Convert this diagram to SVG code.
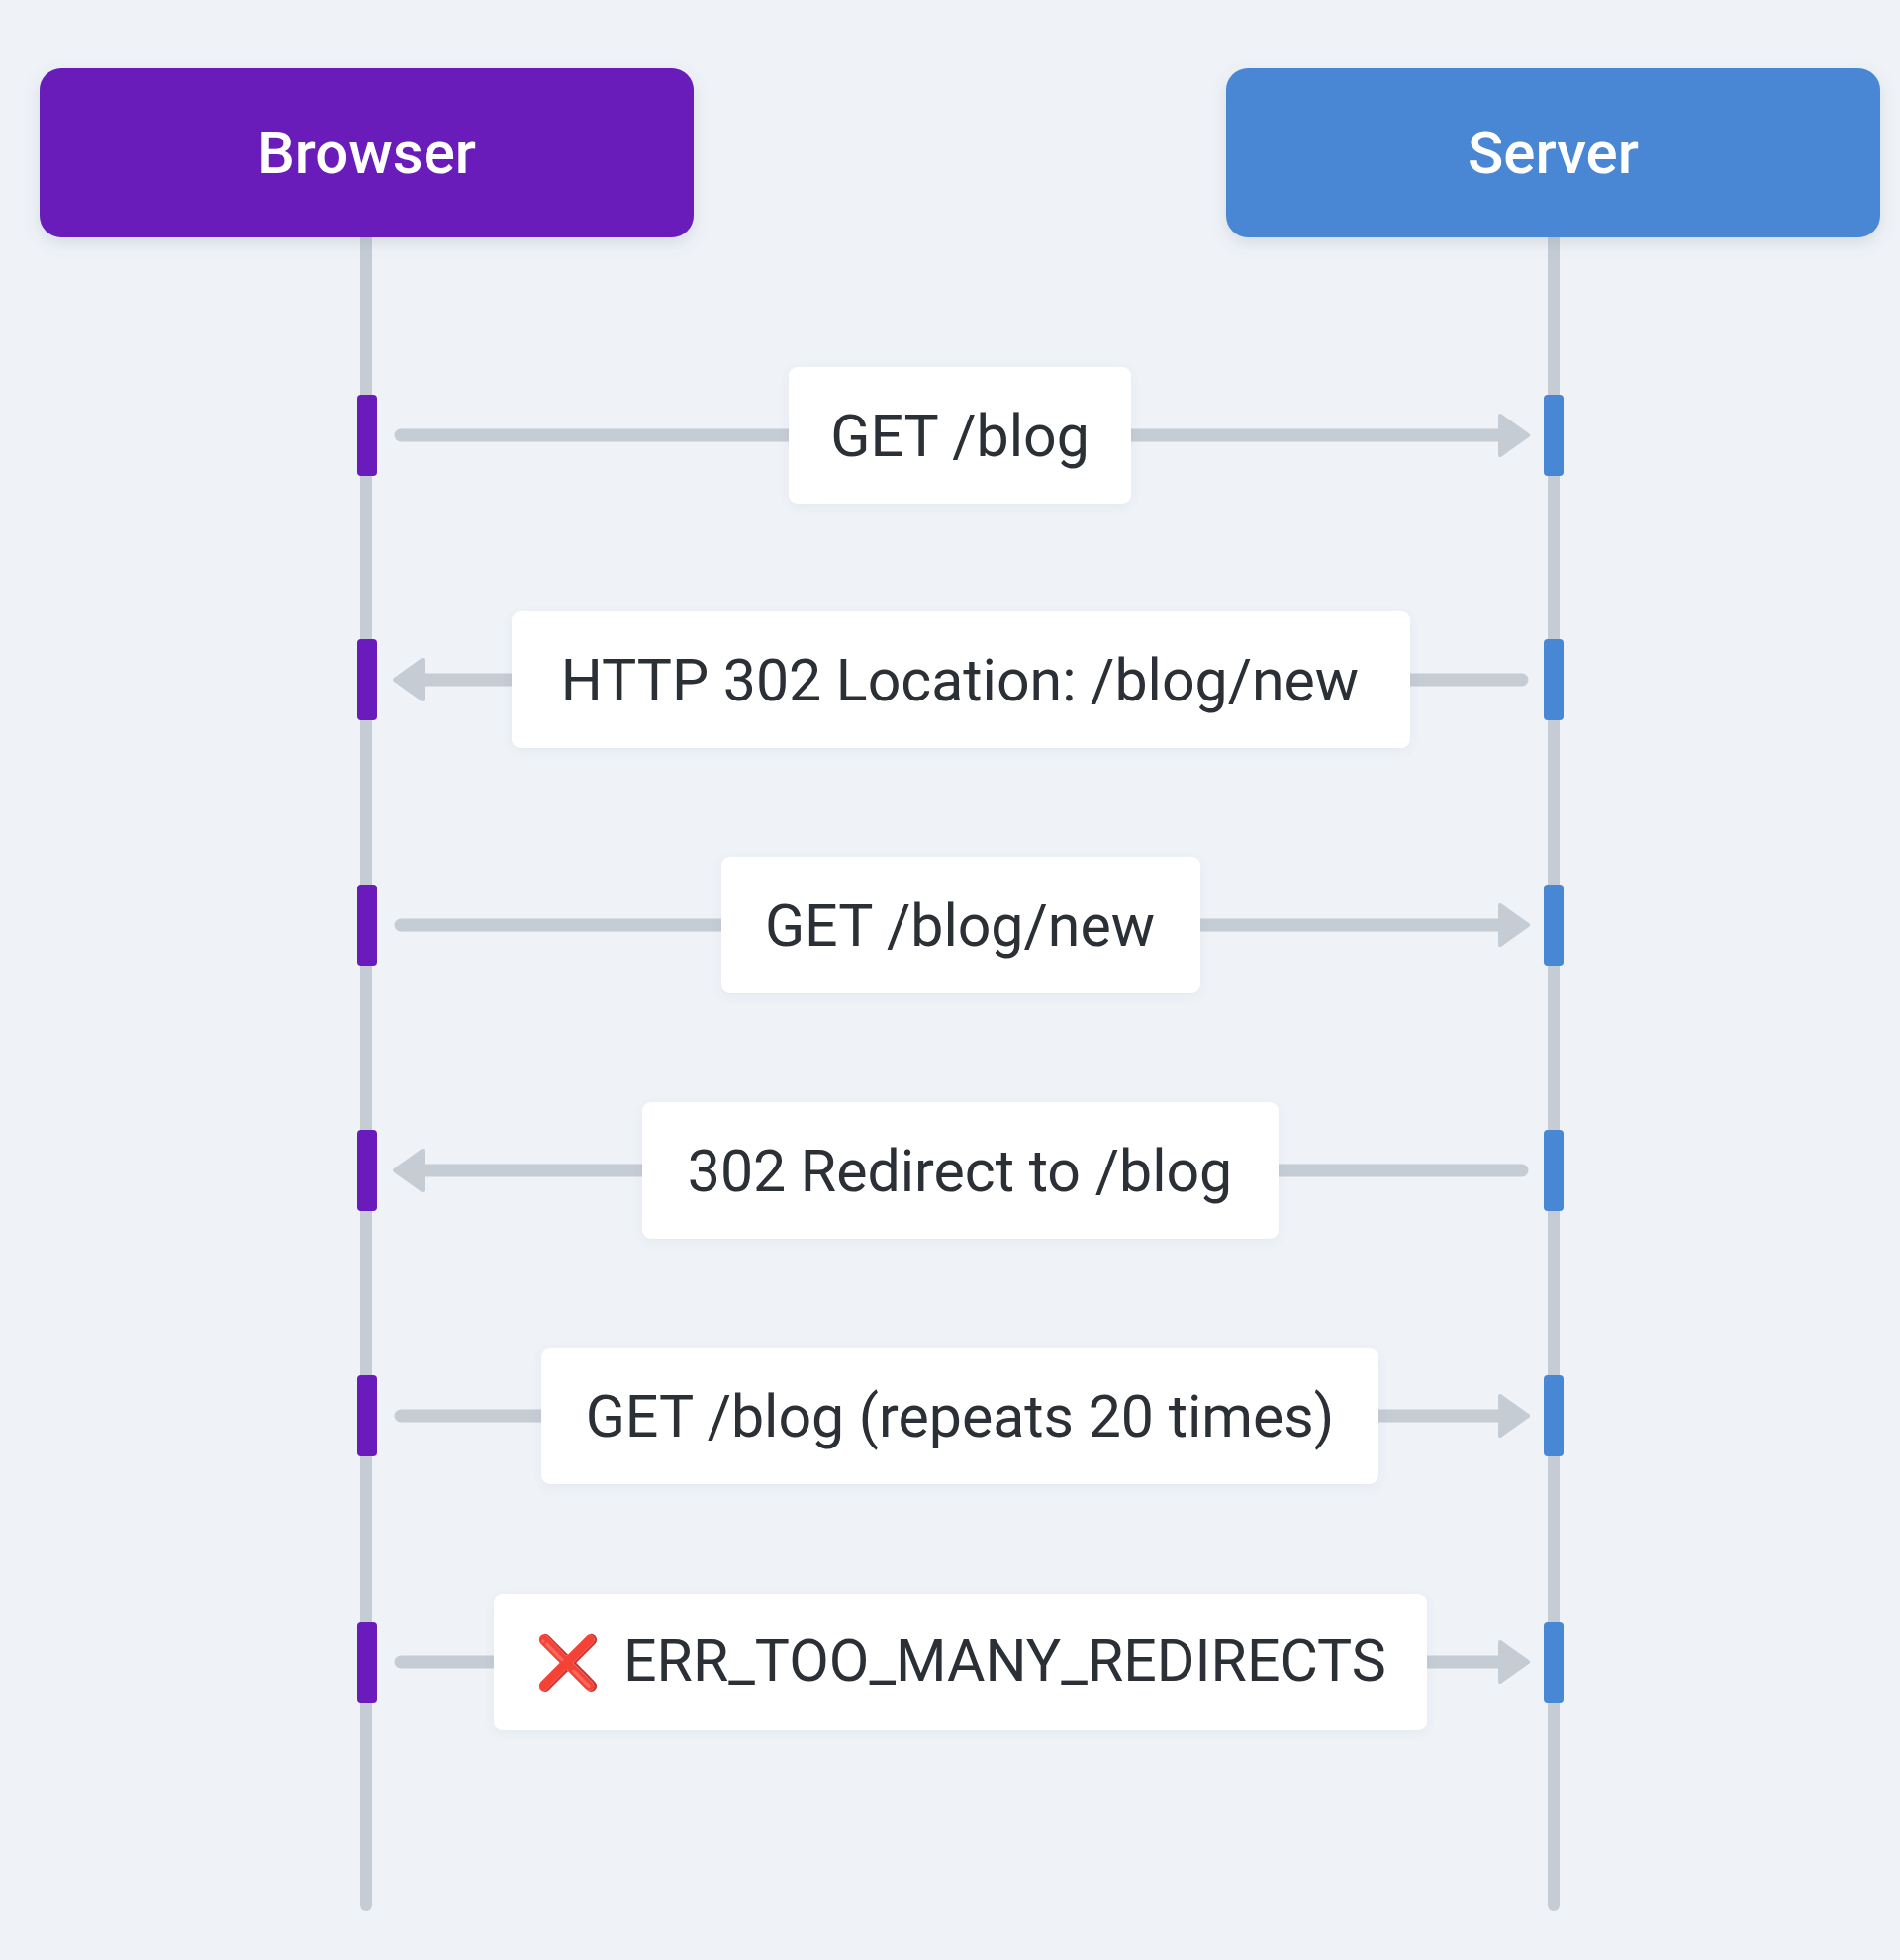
<svg xmlns="http://www.w3.org/2000/svg" width="1920" height="1981" viewBox="0 0 1920 1981">
<style>
.bg{fill:#eff3f7}
.life{stroke:#c5ccd4;stroke-width:12;stroke-linecap:round;fill:none}
.msg{stroke:#c5ccd4;stroke-width:13;stroke-linecap:round;fill:none}
.lbl{fill:#ffffff}
.txt{font-family:Roboto,"Noto Sans","Liberation Sans",sans-serif;font-size:59px;fill:#2b2f36}
.head{font-family:Roboto,"Noto Sans","Liberation Sans",sans-serif;font-size:60px;font-weight:500;fill:#ffffff}
.actB{fill:#6a1bbb}
.actS{fill:#4887d4}
</style>
<defs>
<filter id="sh" x="-10%" y="-20%" width="120%" height="150%">
<feDropShadow dx="0" dy="6" stdDeviation="8" flood-color="#5a6a80" flood-opacity="0.18"/>
</filter>
<filter id="sh2" x="-10%" y="-20%" width="120%" height="150%">
<feDropShadow dx="0" dy="3" stdDeviation="5" flood-color="#5a6a80" flood-opacity="0.08"/>
</filter>
<marker id="ah" markerUnits="userSpaceOnUse" markerWidth="36" markerHeight="50" refX="2" refY="25" orient="auto">
<path d="M3,5 L31,25 L3,45 Z" fill="#c5ccd4" stroke="#c5ccd4" stroke-width="4" stroke-linejoin="round"/>
</marker>
</defs>
<rect class="bg" x="0" y="0" width="1920" height="1981"/>

<g id="browser">
<line class="life" x1="370" y1="240" x2="370" y2="1925"/>
<rect x="40" y="69" width="661" height="171" rx="22" fill="#6a1bbb" filter="url(#sh)"/>
<text class="head" x="370.5" y="175" text-anchor="middle">Browser</text>
</g>

<g id="server">
<line class="life" x1="1570" y1="240" x2="1570" y2="1925"/>
<rect x="1239" y="69" width="661" height="171" rx="22" fill="#4887d4" filter="url(#sh)"/>
<text class="head" x="1569.5" y="175" text-anchor="middle">Server</text>
</g>

<g id="connectors">
<g id="m1">
<line class="msg" x1="405" y1="440" x2="1515" y2="440" marker-end="url(#ah)"/>
<rect class="lbl" x="797" y="371" width="346" height="138" rx="9" filter="url(#sh2)"/>
<text class="txt" x="970" y="461" text-anchor="middle">GET /blog</text>
</g>
<g id="m2">
<line class="msg" x1="1538" y1="687" x2="428" y2="687" marker-end="url(#ah)"/>
<rect class="lbl" x="517" y="618" width="908" height="138" rx="9" filter="url(#sh2)"/>
<text class="txt" x="970" y="708" text-anchor="middle">HTTP 302 Location: /blog/new</text>
</g>
<g id="m3">
<line class="msg" x1="405" y1="935" x2="1515" y2="935" marker-end="url(#ah)"/>
<rect class="lbl" x="729" y="866" width="484" height="138" rx="9" filter="url(#sh2)"/>
<text class="txt" x="970" y="956" text-anchor="middle">GET /blog/new</text>
</g>
<g id="m4">
<line class="msg" x1="1538" y1="1183" x2="428" y2="1183" marker-end="url(#ah)"/>
<rect class="lbl" x="649" y="1114" width="643" height="138" rx="9" filter="url(#sh2)"/>
<text class="txt" x="970" y="1204" text-anchor="middle">302 Redirect to /blog</text>
</g>
<g id="m5">
<line class="msg" x1="405" y1="1431" x2="1515" y2="1431" marker-end="url(#ah)"/>
<rect class="lbl" x="547" y="1362" width="846" height="138" rx="9" filter="url(#sh2)"/>
<text class="txt" x="970" y="1452" text-anchor="middle">GET /blog (repeats 20 times)</text>
</g>
<g id="m6">
<line class="msg" x1="405" y1="1680" x2="1515" y2="1680" marker-end="url(#ah)"/>
<rect class="lbl" x="499" y="1611" width="943" height="138" rx="9" filter="url(#sh2)"/>
<text class="txt" x="541" y="1699"><tspan fill="#dd2e1f" font-family="'DejaVu Sans','Noto Sans',sans-serif" font-size="53px">❌</tspan><tspan x="630">ERR_TOO_MANY_REDIRECTS</tspan></text>
</g>
</g>

<g id="activations">
<rect class="actB" x="361" y="399" width="20" height="82" rx="4"/>
<rect class="actS" x="1560" y="399" width="20" height="82" rx="4"/>
<rect class="actB" x="361" y="646" width="20" height="82" rx="4"/>
<rect class="actS" x="1560" y="646" width="20" height="82" rx="4"/>
<rect class="actB" x="361" y="894" width="20" height="82" rx="4"/>
<rect class="actS" x="1560" y="894" width="20" height="82" rx="4"/>
<rect class="actB" x="361" y="1142" width="20" height="82" rx="4"/>
<rect class="actS" x="1560" y="1142" width="20" height="82" rx="4"/>
<rect class="actB" x="361" y="1390" width="20" height="82" rx="4"/>
<rect class="actS" x="1560" y="1390" width="20" height="82" rx="4"/>
<rect class="actB" x="361" y="1639" width="20" height="82" rx="4"/>
<rect class="actS" x="1560" y="1639" width="20" height="82" rx="4"/>
</g>
</svg>
